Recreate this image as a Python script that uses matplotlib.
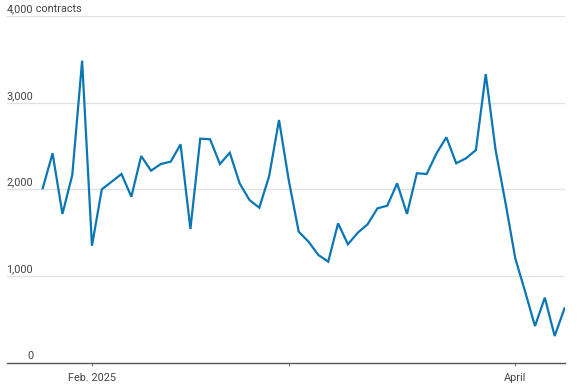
import matplotlib
matplotlib.use("Agg")
import matplotlib.pyplot as plt
import matplotlib.transforms as mtransforms

# daily contracts
contracts = [2014, 2417, 1718, 2167, 3485, 1352, 2002, 2090, 2179, 1917,
             2386, 2217, 2294, 2321, 2521, 1545, 2586, 2579, 2294, 2424,
             2071, 1879, 1790, 2156, 2801, 2100, 1514, 1398, 1245, 1168,
             1610, 1368, 1502, 1599, 1783, 1813, 2071, 1718, 2187, 2179,
             2417, 2602, 2302, 2360, 2455, 3331, 2455, 1850, 1207, 822,
             426, 753, 311, 630]
days = list(range(len(contracts)))

tick_pos = [5, 25, 48]
tick_labels = ["Feb. 2025", "", "April"]
y_ticks = [0, 1000, 2000, 3000, 4000]
y_labels = ["0", "1,000", "2,000", "3,000", "4,000"]

plt.rcParams["font.family"] = ["Roboto", "DejaVu Sans"]

fig = plt.figure(figsize=(5.78, 3.88), dpi=100)
ax = fig.add_axes([7 / 578, 25 / 388, 558 / 578, 347 / 388])

# gridlines
for v in y_ticks[1:]:
    ax.axhline(v, color="#e2e2e2", lw=1.0, zorder=1)

ax.plot(days, contracts, color="#0a77b4", lw=1.6, zorder=3,
        solid_joinstyle="miter")

ax.set_xlim(-3.63, 53.05)
ax.set_ylim(0, 4000)

for s in ["top", "right", "left"]:
    ax.spines[s].set_visible(False)
ax.spines["bottom"].set_color("#555555")
ax.spines["bottom"].set_linewidth(1.0)

ax.set_yticks([])
ax.set_xticks(tick_pos)
ax.set_xticklabels(tick_labels, fontsize=7.8, color="#444444")
ax.tick_params(axis="x", length=2, width=0.8, color="#777777", pad=5)

# y labels sit just above their gridlines
off = mtransforms.offset_copy(ax.get_yaxis_transform(), fig=fig, x=0, y=2, units="dots")
for v, lab in zip(y_ticks, y_labels):
    ax.text(0.0466, v, lab, transform=off, ha="right", va="bottom",
            fontsize=7.8, color="#444444")
ax.text(0.0466, 4000, " contracts", transform=off, ha="left", va="bottom",
        fontsize=7.8, color="#444444")

fig.savefig("out.png", dpi=100)
